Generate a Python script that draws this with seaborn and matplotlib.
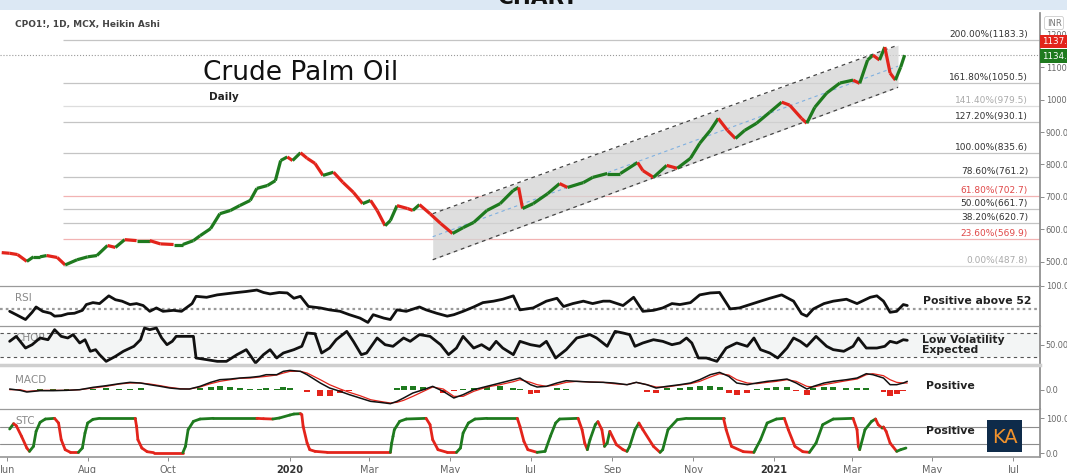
import numpy as np
import pandas as pd
import matplotlib.pyplot as plt
import matplotlib.patches as mpatches
from matplotlib.collections import LineCollection
import seaborn as sns

# ------------------------------------------------------------
# DATA  (x = days after 2019-06-01)
# ------------------------------------------------------------
START = pd.Timestamp('2019-06-01')

# Heikin Ashi closes
price_day = [-4, 2, 8, 15, 20, 25, 30, 38, 44, 53, 61, 68, 76, 82, 89, 98, 108, 116, 126, 133,
             141, 146, 154, 161, 169, 176, 184, 189, 197, 203, 207, 212, 216, 222, 227, 233, 239, 247, 254, 262,
             269, 275, 280, 286, 290, 295, 303, 307, 312, 320, 328, 337, 345, 353, 363, 373, 383, 387, 390, 398,
             409, 418, 424, 436, 443, 454, 464, 477, 481, 489, 499, 507, 517, 524, 532, 538, 545, 551, 558, 567,
             577, 586, 592, 601, 605, 611, 620, 630, 640, 645, 651, 655, 660, 664, 668, 672, 676, 679]
price_close = [528, 526, 522, 501, 515, 515, 519, 513, 490, 506, 515, 519, 550, 544, 568, 565, 565, 555, 553, 553,
               565, 580, 602, 648, 658, 673, 689, 726, 735, 750, 812, 823, 812, 836, 819, 803, 766, 776, 745, 714,
               679, 689, 658, 611, 627, 673, 664, 658, 676, 648, 618, 587, 605, 621, 658, 679, 720, 729, 664, 679,
               710, 741, 729, 744, 760, 772, 772, 806, 781, 760, 797, 788, 819, 865, 905, 942, 905, 880, 905, 927,
               961, 992, 983, 942, 927, 976, 1020, 1051, 1060, 1050, 1122, 1137, 1122, 1162, 1082, 1060, 1100, 1137]
last_price = 1137.2
prev_price = 1134.1

# regression channel drawn on the chart
channel_day = [322, 674]
channel_top = [648, 1168]
channel_bottom = [506, 1038]

# fibonacci extension levels
fib_start_day = 42
fib_pct = ['0.00%', '23.60%', '38.20%', '50.00%', '61.80%', '78.60%',
           '100.00%', '127.20%', '141.40%', '161.80%', '200.00%']
fib_value = [487.8, 569.9, 620.7, 661.7, 702.7, 761.2, 835.6, 930.1, 979.5, 1050.5, 1183.3]

rsi_day = [2, 7, 14, 19, 22, 27, 33, 36, 41, 46, 51, 57, 60, 65, 70, 77, 82, 87, 93, 98,
           103, 108, 113, 118, 126, 132, 140, 143, 151, 159, 171, 181, 189, 194, 199, 206, 212, 217, 222, 228,
           237, 244, 252, 259, 267, 273, 277, 285, 290, 295, 302, 312, 317, 325, 333, 338, 345, 353, 360, 368,
           375, 383, 388, 398, 408, 416, 421, 428, 436, 443, 451, 456, 466, 474, 481, 489, 496, 503, 509, 517,
           524, 532, 539, 547, 554, 562, 570, 577, 586, 595, 601, 605, 610, 618, 625, 635, 643, 653, 658, 663,
           668, 673, 678, 681]
rsi_value = [47, 40, 30, 45, 56, 47, 43, 37, 38, 42, 43, 49, 61, 65, 63, 79, 71, 68, 61, 63,
             59, 47, 54, 47, 49, 47, 63, 78, 76, 81, 85, 88, 91, 86, 83, 86, 85, 74, 78, 57,
             54, 50, 47, 40, 33, 24, 40, 33, 30, 50, 47, 56, 50, 43, 37, 40, 47, 56, 65, 68,
             72, 79, 50, 54, 68, 74, 57, 63, 68, 63, 68, 68, 59, 76, 47, 49, 54, 63, 61, 65,
             81, 85, 86, 52, 54, 61, 68, 74, 81, 68, 42, 37, 52, 63, 68, 72, 63, 76, 79, 68,
             45, 47, 61, 59]
rsi_level = 52

chop_day = [2, 7, 14, 19, 25, 31, 36, 41, 46, 50, 55, 59, 63, 67, 70, 75, 82, 88, 96, 101,
            104, 108, 113, 117, 121, 125, 128, 136, 141, 143, 151, 159, 166, 174, 181, 188, 194, 199, 204, 209,
            217, 223, 227, 233, 238, 244, 249, 257, 262, 268, 272, 280, 286, 292, 300, 305, 312, 320, 328, 334,
            340, 345, 353, 359, 365, 370, 375, 383, 388, 396, 403, 408, 415, 423, 431, 441, 446, 454, 460, 466,
            471, 475, 481, 489, 496, 503, 509, 514, 518, 523, 529, 537, 544, 552, 560, 565, 570, 577, 583, 590,
            595, 600, 605, 612, 620, 625, 633, 640, 644, 650, 658, 664, 668, 673, 678, 681]
chop_value = [53.6, 58.5, 47.0, 50.3, 56.9, 55.2, 65.1, 58.5, 56.9, 60.2, 52.0, 55.2, 43.8, 45.4, 40.5, 33.9, 38.8, 43.8, 48.7, 55.2,
              66.7, 65.1, 66.7, 56.9, 50.3, 53.6, 58.5, 58.5, 58.5, 37.2, 35.6, 33.9, 33.9, 40.5, 45.4, 32.3, 40.5, 45.4, 37.2, 42.1,
              45.4, 48.7, 61.8, 61.1, 42.1, 47.0, 55.2, 63.4, 53.6, 40.5, 42.1, 56.9, 50.3, 48.7, 56.9, 53.6, 60.2, 58.5, 50.3, 40.5,
              47.0, 58.5, 47.0, 50.3, 45.4, 53.6, 47.0, 40.5, 53.6, 50.3, 48.7, 53.6, 37.2, 45.4, 56.9, 60.2, 56.9, 48.7, 63.4, 61.8,
              60.2, 48.7, 52.0, 55.2, 53.6, 50.3, 52.0, 56.9, 52.0, 37.2, 37.2, 33.9, 47.0, 52.0, 48.7, 56.9, 45.4, 42.1, 37.2, 47.0,
              56.9, 53.6, 48.7, 58.5, 48.7, 45.4, 43.8, 48.7, 56.9, 47.0, 47.0, 48.7, 53.6, 52.0, 55.2, 54.6]
chop_band = [38.2, 61.8]

macd_day = [2, 10, 15, 25, 35, 45, 55, 65, 75, 85, 93, 101, 108, 116, 123, 131, 138, 146, 154, 161,
            169, 176, 184, 191, 196, 204, 209, 214, 222, 227, 237, 244, 252, 259, 267, 275, 282, 290, 295, 300,
            307, 315, 322, 330, 338, 345, 353, 363, 373, 383, 388, 396, 401, 408, 416, 423, 431, 441, 451, 459,
            469, 476, 484, 491, 499, 509, 517, 524, 532, 539, 546, 552, 560, 567, 575, 582, 590, 597, 605, 610,
            618, 625, 635, 643, 650, 655, 663, 668, 673, 678, 681]
macd_line = [1.0, -1, -3.5, -1.5, -1.5, -1, 0, 3.5, 6, 9, 11, 10, 7.5, 5, 2.5, 1, 1, 5, 11, 15,
             16, 17.5, 18.5, 20, 22.5, 22.5, 27.5, 29, 27.5, 22.5, 10, 2.5, -2.5, -7.5, -12.5, -17.5, -19, -21, -17.5, -12.5,
             -5, 0, 5, -2.5, -12.5, -7.5, 0, 5, 10, 15, 17.5, 7.5, 4, 5, 10, 13.5, 12.5, 11.5, 11, 10,
             7.5, 11, 7.5, 2.5, 5, 7.5, 10, 15, 22.5, 26, 20, 10, 7.5, 10, 12.5, 14, 16, 10, 1, 5,
             10, 12.5, 15, 17.5, 24, 22.5, 17.5, 7.5, 7.5, 10, 12.5]
macd_signal = [0, 0, -2.5, -1, -1, -1, 0, 2.5, 5, 8.5, 10, 10, 8.5, 6, 3.5, 1.5, 1, 4, 9, 12.5,
               15, 17, 17.5, 19, 20, 22, 25, 27.5, 27.5, 25, 15, 7.5, 1, -4, -9, -15, -17.5, -20, -19, -16,
               -10, -2.5, 4, 1, -10, -10, -2.5, 4, 7.5, 12, 15, 11, 7.5, 5, 7.5, 11, 12.5, 11.5, 11, 9,
               7.5, 11, 7.5, 4, 4, 7, 9, 12.5, 19, 24, 22, 15, 10, 9, 11, 12.5, 15, 12.5, 5, 4,
               7.5, 10, 13.5, 16, 22.5, 24, 21, 15, 11, 10, 10]
macd_hist = [0, -0.5, -1, 1.5, 1, 0.5, 0.5, 1.5, 2, 1.5, 1, 2, -1, -1, -0.5, -0.5, 0, 2.5, 4, 5,
             3.5, 2, 1.5, 1.5, 2.5, 1.5, 4, 2.5, -1, -4, -10, -9, -5, -2.5, -1, -1, 0, 0, 2.5, 5,
             6, 4, -1, -5, -2.5, 1, 2.5, 4, 5, 2.5, 1, -6, -5, 0, 2.5, 1, 0, -1, 0, -0.5,
             0, 0, -4, -5, 2, 2.5, 4, 5, 6, 4, -5, -7.5, -5, 1, 2.5, 4, 4, -2.5, -7.5, 2,
             4, 4, 3, 2, 2.5, -1, -4, -9, -6, -2.5, 0]

stc_day = [2, 5, 7, 11, 15, 17, 20, 22, 25, 29, 36, 39, 41, 44, 48, 54, 57, 59, 61, 65,
           70, 97, 98, 99, 102, 106, 111, 133, 135, 137, 141, 146, 156, 189, 194, 201, 206, 214, 217, 222,
           223, 224, 227, 229, 233, 242, 290, 291, 292, 293, 297, 302, 317, 320, 322, 326, 333, 340, 343, 345,
           349, 354, 363, 386, 388, 391, 394, 401, 407, 411, 415, 418, 432, 435, 437, 439, 441, 445, 447, 450,
           452, 454, 456, 461, 466, 469, 471, 475, 478, 481, 489, 494, 496, 500, 507, 514, 542, 544, 548, 557,
           565, 566, 570, 575, 582, 588, 591, 596, 602, 607, 612, 617, 625, 640, 643, 644, 645, 649, 654, 657,
           659, 662, 663, 665, 668, 673, 676, 680]
stc_value = [69.2, 84.6, 78.8, 48.1, 14.4, 4.8, 19.2, 62.5, 88.5, 98.1, 100, 86.5, 38.5, 9.6, 1.9, 1.9, 14.4, 57.7, 86.5, 97.1,
             100, 100, 76.9, 38.5, 14.4, 3.8, 1.0, 1.0, 19.2, 67.3, 91.3, 98.1, 100, 100, 99, 98.1, 101, 109.6, 112.5, 113.5,
             110.6, 76.9, 28.8, 9.6, 4.8, 1.9, 1.9, 28.8, 48.1, 67.3, 91.3, 98.1, 100, 81.7, 38.5, 9.6, 1.9, 1.9, 14.4, 57.7,
             86.5, 98.1, 100, 100, 76.9, 33.7, 9.6, 1.9, 4.8, 48.1, 86.5, 98.1, 100, 67.3, 28.8, 9.6, 38.5, 81.7, 90.4, 67.3,
             19.2, 28.8, 62.5, 24, 9.6, 4.8, 19.2, 67.3, 86.5, 67.3, 19.2, 1.9, 9.6, 67.3, 96.2, 100, 100, 67.3, 19.2, 3.8,
             1.9, 9.6, 38.5, 86.5, 98.1, 100, 67.3, 19.2, 3.8, 1.9, 28.8, 81.7, 98.1, 100, 67.3, 19.2, 9.6, 67.3, 91.3, 98.1,
             81.7, 72.1, 75, 62.5, 28.8, 4.8, 9.6, 14.4]
stc_levels = [25, 75]

tick_dates = ['2019-06-01', '2019-08-01', '2019-10-01', '2020-01-01', '2020-03-01', '2020-05-01', '2020-07-01',
              '2020-09-01', '2020-11-01', '2021-01-01', '2021-03-01', '2021-05-01', '2021-07-01']
tick_labels = ['Jun', 'Aug', 'Oct', '2020', 'Mar', 'May', 'Jul', 'Sep', 'Nov', '2021', 'Mar', 'May', 'Jul']

# ------------------------------------------------------------
# STYLE
# ------------------------------------------------------------
sns.set_theme(style='white')
plt.rcParams['font.family'] = ['DejaVu Sans']

GREEN = '#1e7a1e'
RED = '#e3241b'
AXIS = '#8c8c8c'
TXT = '#222222'
W, H = 1067, 473
XLIM = (-5.3, 781.4)

fig = plt.figure(figsize=(W / 100, H / 100), dpi=100)


def px_axes(top, bottom):
    return fig.add_axes([0, 1 - bottom / H, 1040 / W, (bottom - top) / H])


def ftext(x, y, s, **kw):
    fig.text(x / W, 1 - y / H, s, **kw)


ax_p = px_axes(13, 285.7)
ax_r = px_axes(285.7, 326.3)
ax_c = px_axes(326.3, 364.7)
ax_m = px_axes(364.7, 409)
ax_s = px_axes(409, 457)
panels = [ax_p, ax_r, ax_c, ax_m, ax_s]

for ax in panels:
    ax.set_xlim(*XLIM)
    ax.set_facecolor('white')
    ax.grid(False)
    for side in ['left', 'bottom']:
        ax.spines[side].set_visible(False)
    ax.spines['right'].set_color(AXIS)
    ax.spines['top'].set_color('#9a9a9a')
    ax.spines['top'].set_linewidth(0.9)
    ax.tick_params(axis='y', left=False, right=True, labelleft=False, labelright=True,
                   length=3, width=0.7, color=AXIS, labelsize=5.9, labelcolor='#666666', pad=1)
    ax.tick_params(axis='x', bottom=False, labelbottom=False)
    ax.set_xlabel('')
    ax.set_ylabel('')

ax_p.spines['top'].set_visible(False)
ax_m.spines['top'].set_color('#cfcfcf')
ax_m.spines['top'].set_linewidth(2.5)
ax_s.spines['bottom'].set_visible(True)
ax_s.spines['bottom'].set_color('#9a9a9a')

# ------------------------------------------------------------
# PRICE PANEL
# ------------------------------------------------------------
ax_p.set_ylim(426, 1267)
ax_p.set_yticks(range(500, 1300, 100))
ax_p.set_yticklabels([f'{v:.1f}' for v in range(500, 1300, 100)])

fib_line_col = {'23.60%': '#f2b3b3', '61.80%': '#f2b3b3', '0.00%': '#dddddd', '141.40%': '#dddddd'}
fib_text_col = {'23.60%': '#e04848', '61.80%': '#e04848', '0.00%': '#aaaaaa', '141.40%': '#aaaaaa'}
ytrans = ax_p.get_yaxis_transform()
for pct, val in zip(fib_pct, fib_value):
    ax_p.hlines(val, fib_start_day, XLIM[1], color=fib_line_col.get(pct, '#c4c4c4'), lw=0.9, zorder=1)
    ax_p.text(0.9885, val + 3, f'{pct}({val:.1f})', transform=ytrans, ha='right', va='bottom',
              fontsize=6.5, color=fib_text_col.get(pct, '#333333'), zorder=2)

# channel
ax_p.fill_between(channel_day, channel_bottom, channel_top, color='#d4d4d4', alpha=0.75, lw=0, zorder=2)
ax_p.plot(channel_day, channel_top, color='#444444', lw=0.9, dashes=(3, 3), zorder=3)
ax_p.plot(channel_day, channel_bottom, color='#444444', lw=0.9, dashes=(3, 3), zorder=3)
mid = [(t + b) / 2 for t, b in zip(channel_top, channel_bottom)]
ax_p.plot(channel_day, mid, color='#7fb0e0', lw=0.8, dashes=(3, 3), zorder=3)

# last price line
ax_p.axhline(last_price, color='#999999', lw=0.8, ls=':', zorder=1)

# heikin ashi candles as coloured segments
segs, cols = [], []
for i in range(len(price_day) - 1):
    segs.append([(price_day[i], price_close[i]), (price_day[i + 1], price_close[i + 1])])
    cols.append(GREEN if price_close[i + 1] >= price_close[i] else RED)
ax_p.add_collection(LineCollection(segs, colors=cols, linewidths=2.3, capstyle='butt', zorder=4))

# price labels on the axis
ax_p.text(1.002, 1180, f'{last_price:.1f}', transform=ytrans, ha='left', va='center', fontsize=6.3,
          color='white', bbox=dict(boxstyle='square,pad=0.25', fc=RED, ec='none'), zorder=6)
ax_p.text(1.002, prev_price, f'{prev_price:.1f}', transform=ytrans, ha='left', va='center', fontsize=6.3,
          color='white', bbox=dict(boxstyle='square,pad=0.25', fc=GREEN, ec='none'), zorder=6)

# ------------------------------------------------------------
# RSI
# ------------------------------------------------------------
ax_r.set_ylim(16, 100)
ax_r.axhline(rsi_level, color='#9a9a9a', lw=1.6, ls=(0, (1.2, 1.4)), zorder=1)
sns.lineplot(x=rsi_day, y=rsi_value, ax=ax_r, color='#111111', linewidth=2.0, zorder=3)
ax_r.set_yticks([100])
ax_r.set_yticklabels(['100.00'])
ax_r.text(15 / 1040, 0.70, 'RSI', transform=ax_r.transAxes, fontsize=7.5, color='#8a8a8a', va='center', zorder=1)

# ------------------------------------------------------------
# CHOP
# ------------------------------------------------------------
ax_c.set_ylim(30.6, 68.4)
ax_c.axhspan(chop_band[0], chop_band[1], color='#f3f5f5', lw=0, zorder=0)
for lv in chop_band:
    ax_c.axhline(lv, color='#555555', lw=0.8, dashes=(3, 3), zorder=1)
sns.lineplot(x=chop_day, y=chop_value, ax=ax_c, color='#111111', linewidth=2.0, zorder=3)
ax_c.set_yticks([50])
ax_c.set_yticklabels(['50.00'])
ax_c.text(15 / 1040, 0.70, 'CHOP', transform=ax_c.transAxes, fontsize=7.5, color='#8a8a8a', va='center', zorder=1)

# ------------------------------------------------------------
# MACD
# ------------------------------------------------------------
ax_m.set_ylim(-29, 37.5)
ax_m.bar(macd_day, macd_hist, width=4.5, color=[GREEN if h >= 0 else RED for h in macd_hist], lw=0, zorder=1)
sns.lineplot(x=macd_day, y=macd_signal, ax=ax_m, color=RED, linewidth=0.9, zorder=2)
sns.lineplot(x=macd_day, y=macd_line, ax=ax_m, color='#111111', linewidth=1.1, zorder=3)
ax_m.set_yticks([0])
ax_m.set_yticklabels(['0.0'])
ax_m.text(15 / 1040, 0.66, 'MACD', transform=ax_m.transAxes, fontsize=7.5, color='#8a8a8a', va='center', zorder=0)

# ------------------------------------------------------------
# STC
# ------------------------------------------------------------
ax_s.set_ylim(-11.5, 127)
for lv in stc_levels:
    ax_s.axhline(lv, color='#8c8c8c', lw=0.8, zorder=1)
segs, cols, prev = [], [], GREEN
for i in range(len(stc_day) - 1):
    a, b = stc_value[i], stc_value[i + 1]
    c = GREEN if b > a else (RED if b < a else prev)
    prev = c
    segs.append([(stc_day[i], a), (stc_day[i + 1], b)])
    cols.append(c)
ax_s.add_collection(LineCollection(segs, colors=cols, linewidths=2.0, capstyle='round', zorder=3))
ax_s.set_yticks([0, 100])
ax_s.set_yticklabels(['0.0', '100.0'])
ax_s.text(15 / 1040, 0.75, 'STC', transform=ax_s.transAxes, fontsize=7.5, color='#8a8a8a', va='center', zorder=1)

tick_pos = [(pd.Timestamp(d) - START).days for d in tick_dates]
ax_s.set_xticks(tick_pos)
ax_s.set_xticklabels(tick_labels)
ax_s.tick_params(axis='x', bottom=True, labelbottom=True, length=3, width=0.7, color=AXIS,
                 labelsize=7, labelcolor='#666666', pad=3)
for lab in ax_s.get_xticklabels():
    if lab.get_text() in ('2020', '2021'):
        lab.set_fontweight('bold')
        lab.set_color('#333333')

# ------------------------------------------------------------
# TEXTS / DECORATION
# ------------------------------------------------------------
fig.add_artist(mpatches.Rectangle((0, 1 - 10 / H), 1, 10 / H, transform=fig.transFigure,
                                  color='#dce8f4', lw=0, zorder=0))
ftext(538, 4, 'CHART', ha='center', va='baseline', fontsize=15.5, fontweight='bold', color='#111111')

ftext(15, 24, 'CPO1!, 1D, MCX, Heikin Ashi', ha='left', va='center', fontsize=6.5,
      fontweight='bold', color='#444444')
ftext(203, 73, 'Crude Palm Oil', ha='left', va='center', fontsize=19, color='#111111')
ftext(209, 97, 'Daily', ha='left', va='center', fontsize=7.5, fontweight='bold', color=TXT)
ftext(1054, 23, 'INR', ha='center', va='center', fontsize=6, color='#777777',
      bbox=dict(boxstyle='round,pad=0.25', fc='white', ec='#cccccc', lw=0.6))

ftext(923, 301, 'Positive above 52', ha='left', va='center', fontsize=7.8, fontweight='bold', color=TXT)
ftext(922, 345, 'Low Volatility\nExpected', ha='left', va='center', fontsize=7.8, fontweight='bold',
      color=TXT, linespacing=0.95)
ftext(926, 386, 'Positive', ha='left', va='center', fontsize=7.8, fontweight='bold', color=TXT)
ftext(926, 431, 'Positive', ha='left', va='center', fontsize=7.8, fontweight='bold', color=TXT)

fig.add_artist(mpatches.Rectangle((987 / W, 1 - 452 / H), 35 / W, 32 / H, transform=fig.transFigure,
                                  color='#0e2b4a', lw=0, zorder=5))
ftext(1004.5, 437, 'KA', ha='center', va='center', fontsize=14, color='#f0922c', zorder=6)

fig.savefig('out.png', dpi=100)
